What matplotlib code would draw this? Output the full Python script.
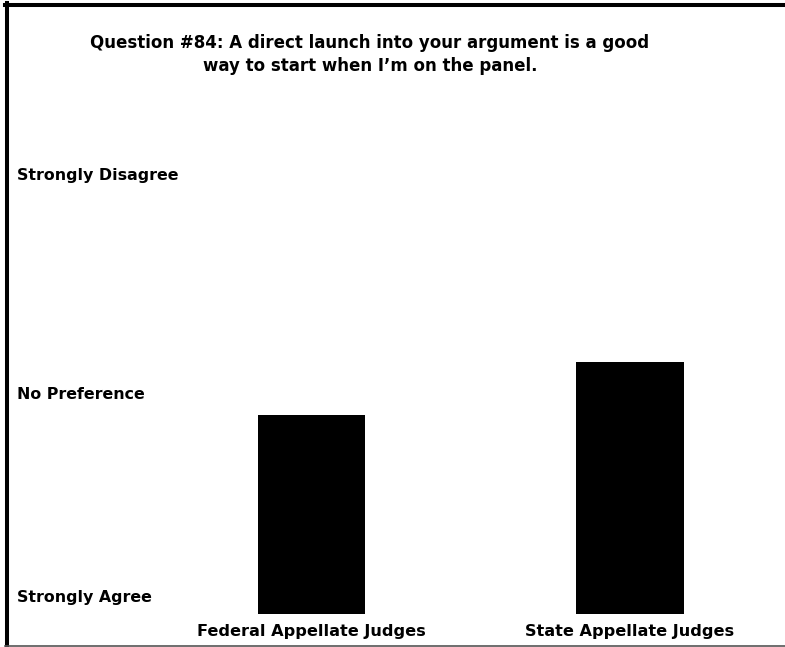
import matplotlib
matplotlib.use('Agg')
import matplotlib.pyplot as plt
from matplotlib.lines import Line2D
import matplotlib.transforms as mtransforms

# --- data ---
groups = ['Federal Appellate Judges', 'State Appellate Judges']
mean_scores = [2.88, 3.38]          # 1 = Strongly Agree, 3 = No Preference, 5 = Strongly Disagree
scale_levels = [1, 3, 5]
scale_labels = ['Strongly Agree', 'No Preference', 'Strongly Disagree']
title = ('Question #84: A direct launch into your argument is a good\n'
         'way to start when I\u2019m on the panel.')

W, H = 785, 647
plt.rcParams['font.family'] = ['DejaVu Sans']
fig = plt.figure(figsize=(W / 100, H / 100), dpi=100)

# axes: full width, y from px 84 (top) to px 614 (bottom)
ax = fig.add_axes([0, (H - 614) / H, 1, (614 - 84) / H])
x = [0, 1]
base = scale_levels[0]
ax.bar(x, [v - base for v in mean_scores], bottom=base, width=0.336, color='black')
ax.set_xlim(-311.5 / 318.5, (W - 311.5) / 318.5)
ax.set_ylim(1, 6)

for s in ax.spines.values():
    s.set_visible(False)
ax.set_yticks([])
ax.set_xticks(x)
ax.set_xticklabels(groups, fontsize=11.6, fontweight='bold')
ax.tick_params(axis='x', length=0, pad=7)

# scale labels at left
trans = mtransforms.blended_transform_factory(fig.transFigure, ax.transData)
nudges = [0.16, 0.07, 0.14]
for lvl, lab, nd in zip(scale_levels, scale_labels, nudges):
    ax.text(17 / W, lvl + nd, lab, transform=trans, ha='left', va='center',
            fontsize=11.4, fontweight='bold')

fig.text(370 / W, 1 - 54.5 / H, title, ha='center', va='center',
         fontsize=12, fontweight='bold', linespacing=1.35)

# frame lines
fig.add_artist(Line2D([5 / W, 1], [1 - 4.5 / H, 1 - 4.5 / H], color='black',
                      linewidth=2.9, transform=fig.transFigure))
fig.add_artist(Line2D([7 / W, 7 / W], [1 - 3 / H, 1 - 646 / H], color='black',
                      linewidth=2.9, transform=fig.transFigure))
fig.add_artist(Line2D([5 / W, 1], [1 - 645.5 / H, 1 - 645.5 / H], color='#555555',
                      linewidth=1.2, transform=fig.transFigure))

fig.savefig('out.png', dpi=100)
